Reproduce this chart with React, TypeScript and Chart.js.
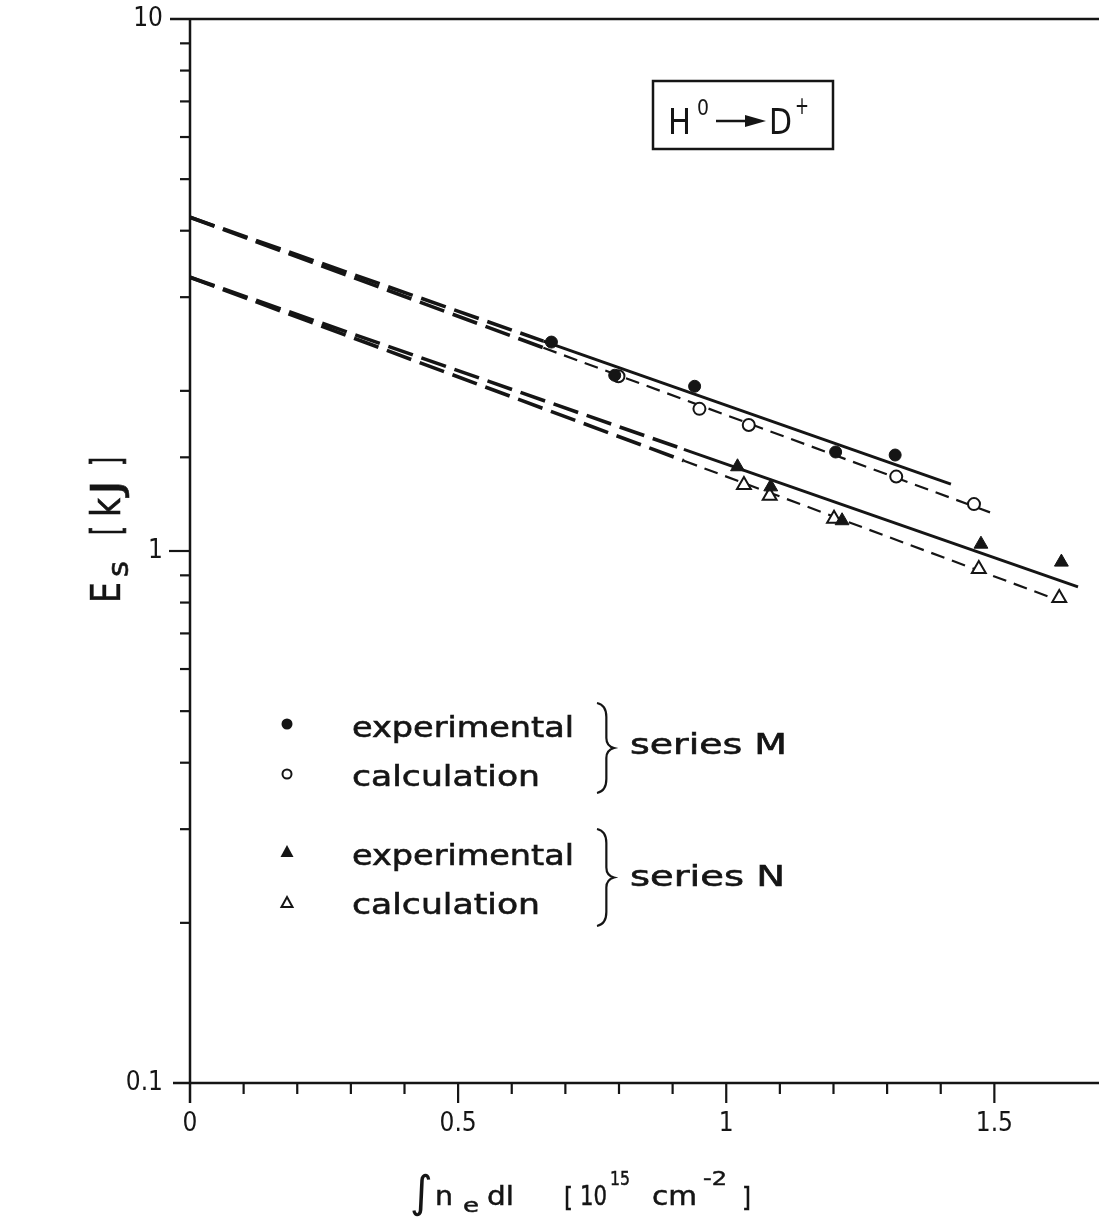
import React, { useEffect, useRef } from "react";
import { Chart, registerables } from "chart.js";

Chart.register(...registerables);

// ---- data ----
const mExpX = [0.674, 0.792, 0.941, 1.204, 1.315];
const mExpE = [2.47, 2.14, 2.04, 1.535, 1.515];
const mCalcX = [0.799, 0.95, 1.042, 1.317, 1.462];
const mCalcE = [2.13, 1.85, 1.725, 1.38, 1.225];
const nExpX = [1.021, 1.083, 1.216, 1.475, 1.625];
const nExpE = [1.44, 1.32, 1.14, 1.03, 0.953];
const nCalcX = [1.033, 1.081, 1.201, 1.471, 1.621];
const nCalcE = [1.33, 1.27, 1.15, 0.925, 0.816];

// fit lines: extrapolated start, start of own style, end
const fitMExpX = [0, 0.659, 1.419];
const fitMExpE = [4.24, 2.48, 1.336];
const fitMCalcX = [0, 0.659, 1.494];
const fitMCalcE = [4.24, 2.41, 1.18];
const fitNExpX = [0, 0.921, 1.656];
const fitNExpE = [3.27, 1.553, 0.856];
const fitNCalcX = [0, 0.921, 1.628];
const fitNCalcE = [3.27, 1.478, 0.802];

const xTickValues = [0, 0.5, 1, 1.5];
const xTickLabels = ["0", "0.5", "1", "1.5"];
const yTickValues = [0.1, 1, 10];
const yTickLabels = ["0.1", "1", "10"];

const legendLabels = ["experimental", "calculation", "experimental", "calculation"];
const seriesLabels = ["series M", "series N"];

const INK = "#151515";
const FONT = "'DejaVu Sans', sans-serif";
const COND = "'DejaVu Sans Condensed', sans-serif";

const pts = (xs: number[], ys: number[]) => xs.map((x, i) => ({ x, y: ys[i] }));

function fitLine(xs: number[], ys: number[], solid: boolean) {
  return {
    type: "line" as const,
    data: pts(xs, ys),
    showLine: true,
    pointRadius: 0,
    borderColor: INK,
    borderWidth: solid ? 3 : 2,
    fill: false,
    order: 2,
    segment: {
      borderDash: (c: any) => (c.p0DataIndex === 0 ? [26, 9] : solid ? [] : [14, 8]),
      borderWidth: (c: any) => (c.p0DataIndex === 0 ? 3.6 : solid ? 3 : 2.2),
    },
  };
}

function marker(xs: number[], ys: number[], style: string, filled: boolean) {
  return {
    type: "scatter" as const,
    data: pts(xs, ys),
    pointStyle: style,
    pointRadius: style === "triangle" ? 8 : 6,
    pointBackgroundColor: filled ? INK : "#ffffff",
    pointBorderColor: INK,
    pointBorderWidth: filled ? 1 : 2,
    showLine: false,
    order: 1,
  };
}

function line(ctx: CanvasRenderingContext2D, x1: number, y1: number, x2: number, y2: number) {
  ctx.beginPath();
  ctx.moveTo(x1, y1);
  ctx.lineTo(x2, y2);
  ctx.stroke();
}

function fitText(ctx: CanvasRenderingContext2D, s: string, x: number, y: number, size: number, width: number, family = FONT, bold = 0) {
  ctx.save();
  ctx.font = `${size}px ${family}`;
  const w = ctx.measureText(s).width;
  ctx.translate(x, y);
  ctx.scale(width / w, 1);
  ctx.textAlign = "left";
  ctx.textBaseline = "alphabetic";
  ctx.fillText(s, 0, 0);
  if (bold > 0) {
    ctx.lineWidth = bold;
    ctx.strokeText(s, 0, 0);
  }
  ctx.restore();
}

function glyph(ctx: CanvasRenderingContext2D, s: string, x: number, y: number, size: number, family = FONT) {
  ctx.font = `${size}px ${family}`;
  ctx.textAlign = "left";
  ctx.textBaseline = "alphabetic";
  ctx.fillText(s, x, y);
}

function brace(ctx: CanvasRenderingContext2D, x: number, y1: number, y2: number, w: number) {
  const ym = (y1 + y2) / 2;
  const xv = x + w * 0.55;
  ctx.beginPath();
  ctx.moveTo(x, y1);
  ctx.quadraticCurveTo(xv, y1 + 2, xv, y1 + 14);
  ctx.lineTo(xv, ym - 10);
  ctx.quadraticCurveTo(xv, ym - 2, x + w, ym);
  ctx.quadraticCurveTo(xv, ym + 2, xv, ym + 10);
  ctx.lineTo(xv, y2 - 14);
  ctx.quadraticCurveTo(xv, y2 - 2, x, y2);
  ctx.stroke();
}

const overlay = {
  id: "overlay",
  afterDraw(chart: any) {
    const ctx: CanvasRenderingContext2D = chart.ctx;
    const { left, right, top, bottom } = chart.chartArea;
    const xs = chart.scales.x;
    const ys = chart.scales.y;
    ctx.save();
    ctx.strokeStyle = INK;
    ctx.fillStyle = INK;
    ctx.lineCap = "butt";

    // axes frame
    ctx.lineWidth = 2.5;
    line(ctx, left, top - 1, left, bottom + 20);
    line(ctx, left - 17, bottom, right, bottom);
    line(ctx, left - 20, top, right, top);

    // y ticks
    ctx.lineWidth = 2.2;
    for (const t of ys.ticks) {
      const v = t.value;
      const lg = Math.log10(v);
      const major = Math.abs(lg - Math.round(lg)) < 1e-6;
      if (major && (Math.round(lg) === -1 || Math.round(lg) === 1)) continue;
      const py = ys.getPixelForValue(v);
      line(ctx, left - (major ? 21 : 10), py, left, py);
    }
    // x ticks
    for (const t of xs.ticks) {
      const v = t.value;
      if (Math.abs(v * 10 - Math.round(v * 10)) > 1e-6) continue;
      if (Math.abs(v) < 1e-9) continue;
      const major = xTickValues.some((m) => Math.abs(m - v) < 1e-6);
      const px = xs.getPixelForValue(v);
      line(ctx, px, bottom, px, bottom + (major ? 20 : 11));
    }

    // x axis title
    glyph(ctx, "\u222B", 410, 1207, 44);
    fitText(ctx, "n", 435, 1205, 27, 18, FONT, 0.5);
    fitText(ctx, "e", 463, 1212, 20, 16, FONT, 0.5);
    fitText(ctx, "dl", 487, 1205, 27, 27, FONT, 0.5);
    fitText(ctx, "[", 564, 1206, 27, 9, FONT, 0.5);
    fitText(ctx, "10", 580, 1205, 27, 27, FONT, 0.5);
    fitText(ctx, "15", 610, 1185, 20, 20, FONT, 0.5);
    fitText(ctx, "cm", 652, 1205, 27, 45, FONT, 0.5);
    fitText(ctx, "-2", 703, 1185, 20, 24, FONT, 0.5);
    fitText(ctx, "]", 742, 1206, 27, 9, FONT, 0.5);

    // y axis title (rotated)
    ctx.save();
    ctx.translate(120, 603);
    ctx.rotate(-Math.PI / 2);
    fitText(ctx, "E", 0, 0, 40, 21, COND, 0.4);
    fitText(ctx, "s", 26, 8, 28, 16, COND, 0.6);
    fitText(ctx, "[", 68, 0, 40, 9, COND, 0.8);
    fitText(ctx, "k", 86, 0, 40, 19, COND, 0.6);
    fitText(ctx, "J", 108, 0, 40, 15, COND, 0.6);
    fitText(ctx, "]", 137, 0, 40, 9, COND, 0.8);
    ctx.restore();

    // reaction box
    ctx.lineWidth = 2.5;
    ctx.strokeRect(653, 81, 180, 68);
    fitText(ctx, "H", 668, 134, 36, 23, FONT);
    fitText(ctx, "0", 697, 115, 22, 12, FONT);
    ctx.lineWidth = 2.5;
    line(ctx, 716, 121, 752, 121);
    ctx.beginPath();
    ctx.moveTo(766, 121);
    ctx.lineTo(745, 115);
    ctx.lineTo(745, 127);
    ctx.closePath();
    ctx.fill();
    fitText(ctx, "D", 769, 134, 36, 23, FONT);
    fitText(ctx, "+", 795, 114, 24, 14, FONT);

    // legend markers
    ctx.lineWidth = 2;
    ctx.beginPath();
    ctx.arc(287, 724, 5.5, 0, Math.PI * 2);
    ctx.fill();
    ctx.beginPath();
    ctx.arc(287, 774, 4.5, 0, Math.PI * 2);
    ctx.stroke();
    ctx.beginPath();
    ctx.moveTo(287, 845);
    ctx.lineTo(293.5, 857);
    ctx.lineTo(280.5, 857);
    ctx.closePath();
    ctx.fill();
    ctx.beginPath();
    ctx.moveTo(287, 897);
    ctx.lineTo(292.5, 907);
    ctx.lineTo(281.5, 907);
    ctx.closePath();
    ctx.stroke();

    // legend texts
    fitText(ctx, legendLabels[0], 352, 737, 28, 222, FONT, 0.6);
    fitText(ctx, legendLabels[1], 352, 786, 28, 188, FONT, 0.6);
    fitText(ctx, legendLabels[2], 352, 865, 28, 222, FONT, 0.6);
    fitText(ctx, legendLabels[3], 352, 914, 28, 188, FONT, 0.6);
    fitText(ctx, seriesLabels[0], 630, 754, 28, 157, FONT, 0.6);
    fitText(ctx, seriesLabels[1], 630, 886, 28, 155, FONT, 0.6);

    ctx.lineWidth = 2.2;
    brace(ctx, 597, 703, 793, 17);
    brace(ctx, 597, 829, 926, 17);

    ctx.restore();
  },
};

export default function App() {
  const ref = useRef<HTMLCanvasElement>(null);
  useEffect(() => {
    const canvas = ref.current!;
    const chart = new Chart(canvas, {
      type: "scatter",
      data: {
        datasets: [
          marker(mExpX, mExpE, "circle", true),
          marker(mCalcX, mCalcE, "circle", false),
          marker(nExpX, nExpE, "triangle", true),
          marker(nCalcX, nCalcE, "triangle", false),
          fitLine(fitMExpX, fitMExpE, true),
          fitLine(fitMCalcX, fitMCalcE, false),
          fitLine(fitNExpX, fitNExpE, true),
          fitLine(fitNCalcX, fitNCalcE, false),
        ] as any,
      },
      options: {
        animation: false,
        responsive: false,
        devicePixelRatio: 1,
        layout: { padding: { top: 19, left: 0, right: 0, bottom: 0 } },
        plugins: { legend: { display: false }, tooltip: { enabled: false }, title: { display: false } },
        scales: {
          x: {
            type: "linear",
            min: 0,
            max: 1.697,
            border: { display: false },
            grid: { display: false, drawOnChartArea: false, drawTicks: false },
            afterFit: (s: any) => {
              s.height = 134;
              s.paddingLeft = 0;
              s.paddingRight = 0;
              s.paddingTop = 0;
              s.paddingBottom = 0;
            },
            ticks: {
              stepSize: 0.1,
              autoSkip: false,
              maxRotation: 0,
              padding: 26,
              color: INK,
              font: { family: COND, size: 26 },
              callback: (v: any) => {
                const i = xTickValues.findIndex((m) => Math.abs(m - Number(v)) < 1e-6);
                return i >= 0 ? xTickLabels[i] : "";
              },
            },
          },
          y: {
            type: "logarithmic",
            min: 0.1,
            max: 10,
            border: { display: false },
            grid: { display: false, drawOnChartArea: false, drawTicks: false },
            afterFit: (s: any) => {
              s.width = 190;
              s.paddingLeft = 0;
              s.paddingRight = 0;
              s.paddingTop = 0;
              s.paddingBottom = 0;
            },
            ticks: {
              autoSkip: false,
              padding: 27,
              color: INK,
              font: { family: COND, size: 26 },
              callback: (v: any) => {
                const i = yTickValues.findIndex((m) => Math.abs(m - Number(v)) < 1e-9);
                return i >= 0 ? yTickLabels[i] : "";
              },
            },
          },
        },
      },
      plugins: [overlay],
    } as any);
    return () => chart.destroy();
  }, []);
  return (
    <div style={{ position: "fixed", left: 0, top: 0, width: 1099, height: 1217, overflow: "hidden", background: "#fff" }}>
      <canvas ref={ref} width={1110} height={1217} style={{ width: 1110, height: 1217, display: "block" }} />
    </div>
  );
}
